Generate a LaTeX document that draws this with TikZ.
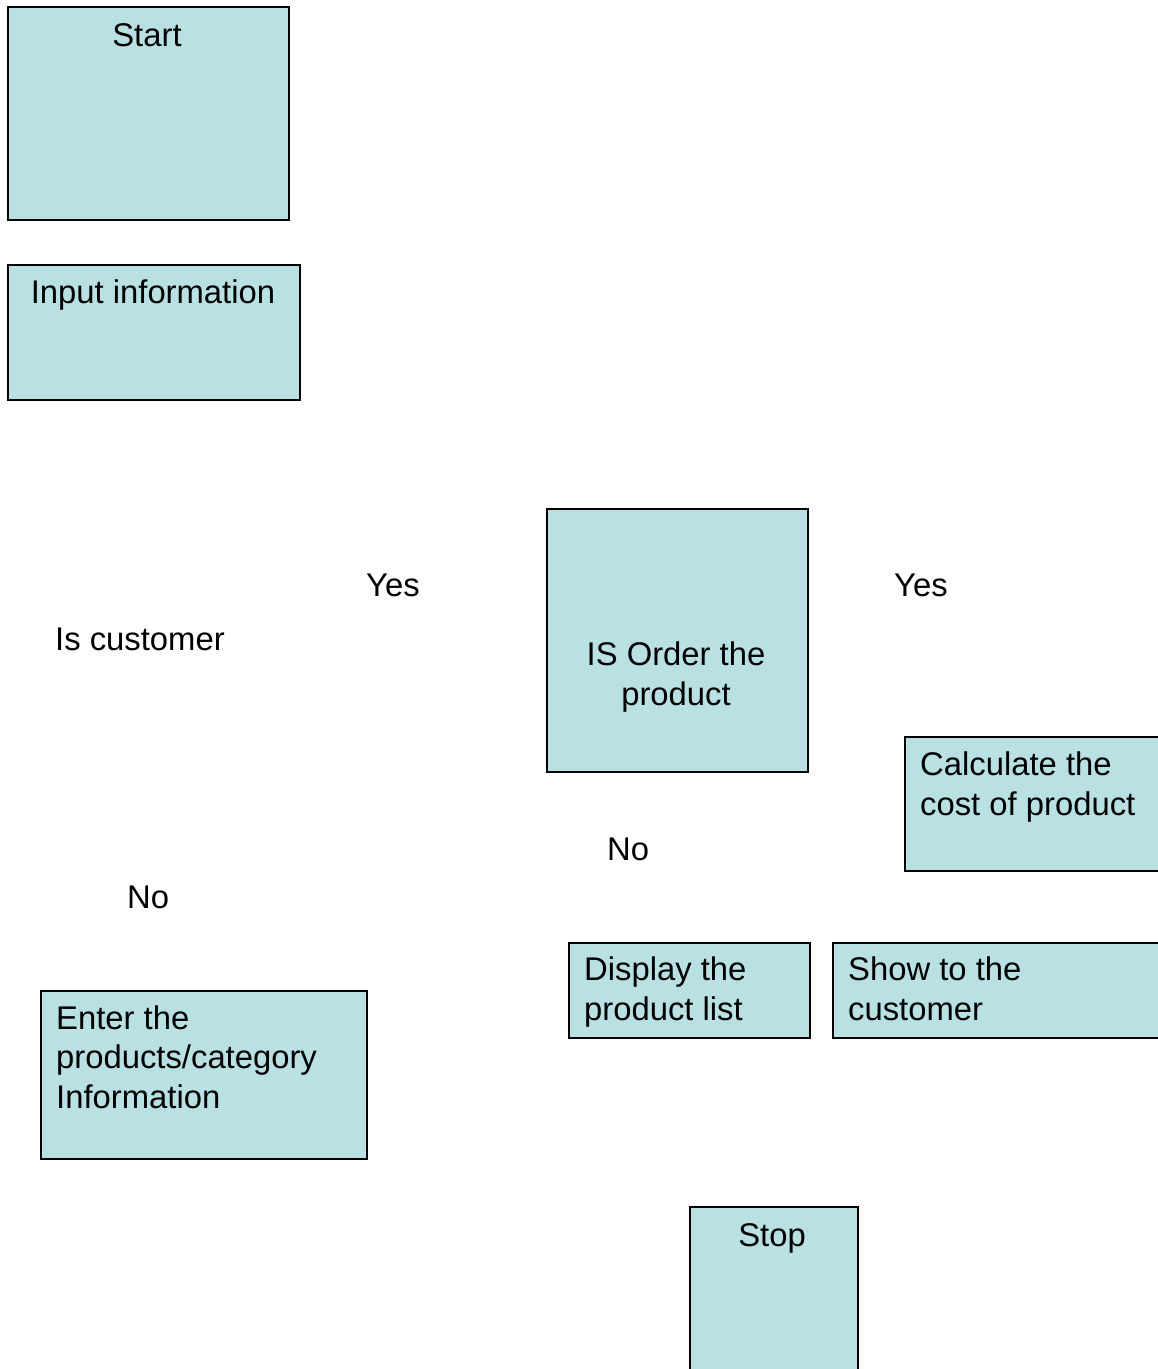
\documentclass[tikz,border=0pt]{standalone}
\usepackage{fontspec}
\setmainfont{Liberation Sans}
\definecolor{boxfill}{RGB}{185,224,227}
\begin{document}
\begin{tikzpicture}[x=1pt,y=-1pt,
  box/.style={draw=black,line width=2pt,fill=boxfill,inner sep=0pt,anchor=north west},
  txt/.style={inner sep=0pt,font=\fontsize{32.8}{39.5}\selectfont},
  ctxt/.style={txt,anchor=base,align=center},
  ltxt/.style={txt,anchor=base west,align=left}]
\useasboundingbox (0,0) rectangle (1158,1369);
\clip (0,0) rectangle (1158,1369);
% boxes
\node[box,minimum width=281pt,minimum height=213pt] (start) at (7,6) {};
\node[box,minimum width=292pt,minimum height=135pt] (input) at (7,264) {};
\node[box,minimum width=261pt,minimum height=263pt] (order) at (546,508) {};
\node[box,minimum width=270pt,minimum height=134pt] (calc) at (904,736) {};
\node[box,minimum width=241pt,minimum height=95pt] (display) at (568,942) {};
\node[box,minimum width=340pt,minimum height=95pt] (show) at (832,942) {};
\node[box,minimum width=326pt,minimum height=168pt] (enter) at (40,990) {};
\node[box,minimum width=168pt,minimum height=190pt] (stop) at (689,1206) {};
% box texts (multi-line nodes: base = last line)
\node[ctxt] (startt) at (147,46) {Start};
\node[ctxt] (inputt) at (153,303) {Input information};
\node[ctxt] (ordert) at (676,705) {IS Order the\\product};
\node[ltxt] (calct) at (920,815) {Calculate the\\cost of product};
\node[ltxt] (displayt) at (584,1020) {Display the\\product list};
\node[ltxt] (showt) at (848,1020) {Show to the\\customer};
\node[ltxt] (entert) at (56,1108) {Enter the\\products/category\\Information};
\node[ctxt] (stopt) at (772,1246) {Stop};
% free labels
\node[ltxt] (yes1) at (366,596) {Yes};
\node[ltxt] (yes2) at (894,596) {Yes};
\node[ltxt] (iscust) at (55,650) {Is customer};
\node[ltxt] (no1) at (607,860) {No};
\node[ltxt] (no2) at (127,908) {No};
\end{tikzpicture}
\end{document}
